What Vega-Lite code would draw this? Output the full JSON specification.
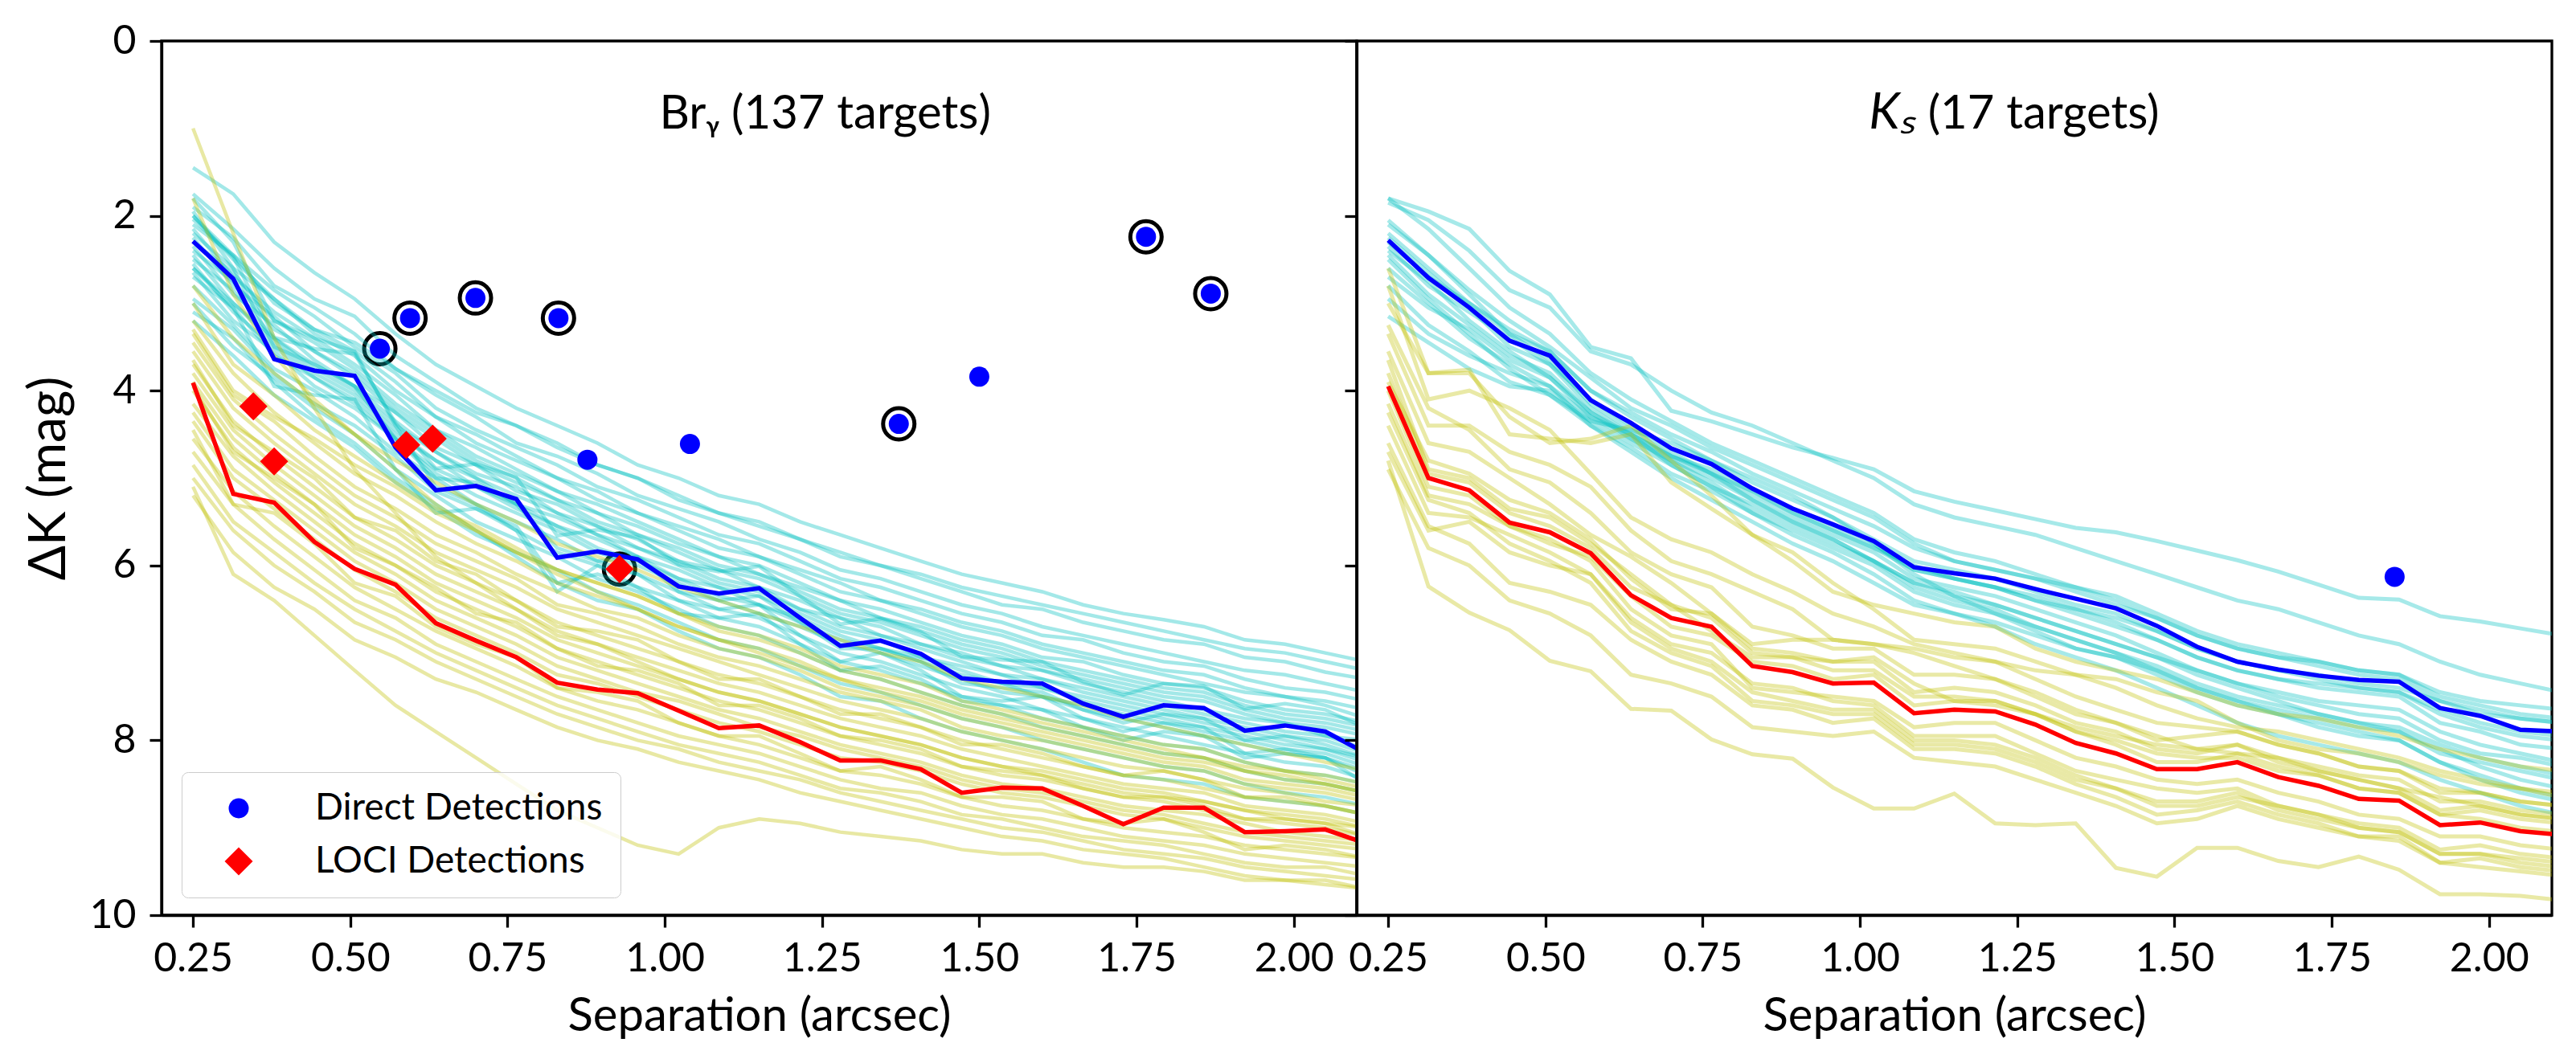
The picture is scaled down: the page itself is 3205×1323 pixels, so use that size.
{
  "$schema": "https://vega.github.io/schema/vega-lite/v6.json",
  "padding": {"left": 27, "top": 24, "right": 30, "bottom": 0},
  "spacing": 0,
  "bounds": "flush",
  "datasets": {
    "grid": [
      {"k": 1, "x": 0.25}, {"k": 2, "x": 0.314}, {"k": 3, "x": 0.379}, {"k": 4, "x": 0.443}, {"k": 5, "x": 0.507},
      {"k": 6, "x": 0.572}, {"k": 7, "x": 0.636}, {"k": 8, "x": 0.7}, {"k": 9, "x": 0.764}, {"k": 10, "x": 0.829},
      {"k": 11, "x": 0.893}, {"k": 12, "x": 0.957}, {"k": 13, "x": 1.022}, {"k": 14, "x": 1.086}, {"k": 15, "x": 1.15},
      {"k": 16, "x": 1.215}, {"k": 17, "x": 1.279}, {"k": 18, "x": 1.343}, {"k": 19, "x": 1.407}, {"k": 20, "x": 1.472},
      {"k": 21, "x": 1.536}, {"k": 22, "x": 1.6}, {"k": 23, "x": 1.665}, {"k": 24, "x": 1.729}, {"k": 25, "x": 1.793},
      {"k": 26, "x": 1.857}, {"k": 27, "x": 1.922}, {"k": 28, "x": 1.986}, {"k": 29, "x": 2.05}, {"k": 30, "x": 2.115}
    ],
    "curves": [
      {"p": "Br", "s": "c", "id": "c1", "y": [1.45,1.75,2.3,2.65,2.95,3.35,3.7,3.95,4.2,4.4,4.6,4.85,5.0,5.2,5.3,5.5,5.65,5.8,5.95,6.1,6.2,6.3,6.45,6.55,6.62,6.7,6.85,6.9,7.0,7.1]},
      {"p": "Br", "s": "c", "id": "c2", "y": [1.75,2.15,2.6,2.95,3.15,3.6,3.9,4.2,4.4,4.6,4.85,5.0,5.2,5.4,5.5,5.7,5.9,6.0,6.15,6.3,6.45,6.5,6.65,6.75,6.85,6.9,7.05,7.1,7.22,7.3]},
      {"p": "Br", "s": "c", "id": "c3", "y": [1.9,2.25,2.8,3.05,3.35,3.75,4.05,4.3,4.6,4.75,4.95,5.2,5.35,5.5,5.7,5.85,6.05,6.15,6.3,6.45,6.55,6.7,6.8,6.9,7.0,7.1,7.2,7.25,7.35,7.45]},
      {"p": "Br", "s": "c", "id": "c4", "y": [2.0,2.45,2.85,3.15,3.5,3.8,4.2,4.45,4.65,4.85,5.1,5.25,5.45,5.65,5.75,5.95,6.15,6.25,6.4,6.55,6.65,6.8,6.85,7.0,7.1,7.15,7.3,7.4,7.45,7.55]},
      {"p": "Br", "s": "c", "id": "c5", "y": [2.1,2.45,3.0,3.3,3.55,3.9,4.3,4.5,4.75,5.0,5.15,5.4,5.55,5.7,5.9,6.05,6.2,6.4,6.5,6.65,6.75,6.9,7.0,7.1,7.2,7.25,7.4,7.5,7.55,7.65]},
      {"p": "Br", "s": "c", "id": "c6", "y": [1.95,2.6,2.95,3.35,3.6,4.0,4.3,4.6,4.8,5.0,5.25,5.4,5.6,5.8,5.9,6.1,6.3,6.4,6.55,6.7,6.8,6.95,7.05,7.15,7.25,7.35,7.45,7.5,7.6,7.75]},
      {"p": "Br", "s": "c", "id": "c7", "y": [2.15,2.7,3.1,3.4,3.7,4.05,4.45,4.65,4.9,5.15,5.3,5.5,5.7,5.9,6.0,6.2,6.4,6.5,6.65,6.8,6.9,7.05,7.1,7.25,7.35,7.4,7.55,7.65,7.7,7.8]},
      {"p": "Br", "s": "c", "id": "c8", "y": [2.3,2.65,3.2,3.45,3.75,4.15,4.45,4.75,4.95,5.15,5.4,5.55,5.75,5.9,6.1,6.25,6.4,6.6,6.7,6.85,6.95,7.1,7.2,7.3,7.4,7.45,7.6,7.7,7.75,7.85]},
      {"p": "Br", "s": "c", "id": "c9", "y": [2.25,2.8,3.15,3.55,3.8,4.2,4.5,4.8,5.0,5.25,5.4,5.65,5.8,6.0,6.1,6.3,6.5,6.6,6.75,6.9,7.0,7.15,7.25,7.35,7.45,7.5,7.65,7.75,7.8,7.9]},
      {"p": "Br", "s": "c", "id": "c10", "y": [2.4,2.75,3.3,3.55,3.85,4.25,4.55,4.85,5.05,5.25,5.5,5.65,5.85,6.05,6.15,6.35,6.55,6.65,6.8,6.95,7.05,7.2,7.3,7.4,7.5,7.55,7.7,7.8,7.85,7.95]},
      {"p": "Br", "s": "c", "id": "c11", "y": [2.35,2.9,3.25,3.65,3.95,4.25,4.65,4.85,5.15,5.3,5.55,5.7,5.95,6.05,6.25,6.4,6.6,6.7,6.9,7.0,7.15,7.2,7.35,7.45,7.55,7.65,7.75,7.8,7.95,8.0]},
      {"p": "Br", "s": "c", "id": "c12", "y": [2.5,2.85,3.4,3.7,3.95,4.35,4.7,4.95,5.1,5.4,5.55,5.8,5.95,6.15,6.25,6.5,6.6,6.8,6.9,7.05,7.15,7.3,7.4,7.5,7.6,7.7,7.8,7.9,7.95,8.1]},
      {"p": "Br", "s": "c", "id": "c13", "y": [2.45,3.0,3.4,3.75,4.0,4.4,4.7,5.0,5.2,5.4,5.65,5.8,6.0,6.2,6.3,6.5,6.7,6.8,6.95,7.1,7.25,7.3,7.45,7.55,7.65,7.75,7.85,7.95,8.0,8.15]},
      {"p": "Br", "s": "c", "id": "c14", "y": [2.6,3.0,3.45,3.8,4.05,4.45,4.8,5.0,5.3,5.45,5.65,5.9,6.05,6.25,6.35,6.55,6.75,6.85,7.05,7.15,7.25,7.4,7.5,7.6,7.7,7.8,7.9,8.0,8.1,8.2]},
      {"p": "Br", "s": "c", "id": "c15", "y": [2.55,3.1,3.5,3.85,4.1,4.5,4.8,5.1,5.3,5.55,5.7,5.9,6.15,6.25,6.45,6.6,6.8,6.95,7.05,7.2,7.35,7.4,7.55,7.65,7.75,7.85,7.95,8.05,8.1,8.25]},
      {"p": "Br", "s": "c", "id": "c16", "y": [2.7,3.05,3.6,3.85,4.15,4.55,4.9,5.1,5.35,5.55,5.8,5.95,6.15,6.35,6.45,6.65,6.85,6.95,7.1,7.25,7.35,7.5,7.6,7.7,7.8,7.9,8.0,8.1,8.15,8.3]},
      {"p": "Br", "s": "c", "id": "c17", "y": [2.65,3.2,3.55,3.95,4.2,4.55,4.95,5.2,5.4,5.6,5.85,6.0,6.2,6.4,6.55,6.7,6.9,7.0,7.15,7.3,7.45,7.5,7.65,7.75,7.85,7.95,8.05,8.15,8.2,8.35]},
      {"p": "Br", "s": "c", "id": "c18", "y": [2.8,3.25,3.75,4.0,4.3,4.7,5.0,5.3,5.5,5.7,5.95,6.1,6.3,6.5,6.6,6.8,7.0,7.1,7.25,7.4,7.5,7.65,7.75,7.85,7.95,8.05,8.15,8.25,8.3,8.45]},
      {"p": "Br", "s": "c", "id": "c19", "y": [2.95,3.3,3.8,4.15,4.4,4.75,5.15,5.35,5.6,5.85,6.0,6.25,6.4,6.6,6.7,6.9,7.1,7.2,7.35,7.5,7.6,7.75,7.85,7.95,8.05,8.1,8.25,8.35,8.4,8.5]},
      {"p": "Br", "s": "c", "id": "c20", "y": [3.0,3.5,3.85,4.2,4.5,4.9,5.2,5.5,5.7,5.9,6.15,6.3,6.5,6.7,6.8,7.0,7.2,7.3,7.45,7.6,7.7,7.85,7.95,8.05,8.15,8.2,8.35,8.45,8.5,8.6]},
      {"p": "Br", "s": "c", "id": "c21", "y": [3.2,3.6,4.05,4.35,4.65,5.05,5.35,5.65,5.85,6.05,6.3,6.45,6.65,6.85,6.95,7.15,7.35,7.45,7.6,7.75,7.85,8.0,8.1,8.2,8.3,8.35,8.5,8.6,8.65,8.75]},
      {"p": "Br", "s": "c", "id": "c22", "y": [2.04,2.47,3.39,3.52,3.58,4.37,4.89,4.84,4.99,5.66,5.59,5.68,5.99,6.07,6.01,6.35,6.67,6.61,6.76,7.04,7.08,7.1,7.33,7.48,7.35,7.38,7.64,7.58,7.65,7.86]},
      {"p": "Br", "s": "c", "id": "c23", "y": [2.6,3.05,3.95,4.05,4.1,4.9,5.4,5.35,5.55,6.2,6.1,6.25,6.55,6.6,6.55,6.9,7.2,7.15,7.3,7.55,7.6,7.65,7.85,8.0,7.9,7.95,8.2,8.15,8.2,8.4]},
      {"p": "Br", "s": "c", "id": "c24", "y": [2.2,2.6,3.5,3.7,3.95,4.55,5.0,5.05,5.3,5.8,5.95,5.9,6.3,6.4,6.35,6.65,6.95,6.95,7.1,7.35,7.4,7.45,7.65,7.8,7.7,7.75,8.0,7.95,8.05,8.2]},
      {"p": "Br", "s": "c", "id": "c25", "y": [1.8,2.3,3.2,3.4,3.55,4.4,5.1,5.3,5.6,6.3,6.0,6.1,6.4,6.5,6.45,6.8,7.1,7.0,7.2,7.5,7.55,7.5,7.75,7.9,7.8,7.85,8.15,8.1,8.2,8.5]},
      {"p": "Br", "s": "c", "id": "c26", "y": [2.0,2.5,2.95,3.3,3.45,3.75,4.0,4.25,4.4,4.65,4.85,5.0,5.25,5.4,5.55,5.7,5.85,6.0,6.1,6.25,6.35,6.45,6.55,6.65,6.75,6.85,6.95,7.0,7.1,7.2]},
      {"p": "Br", "s": "c", "id": "c27", "y": [3.1,3.4,3.9,4.3,4.6,5.0,5.3,5.6,5.9,6.2,6.4,6.5,6.75,6.95,7.05,7.25,7.5,7.55,7.75,7.9,8.0,8.1,8.25,8.4,8.45,8.5,8.65,8.7,8.75,8.85]},
      {"p": "Br", "s": "y", "id": "y1", "y": [1.0,2.2,3.4,4.2,4.9,5.4,5.9,6.2,6.5,6.8,6.9,7.1,7.3,7.45,7.55,7.7,7.85,7.95,8.05,8.2,8.3,8.35,8.45,8.55,8.6,8.7,8.8,8.85,8.9,9.0]},
      {"p": "Br", "s": "y", "id": "y2", "y": [1.8,2.9,3.6,4.1,4.5,4.9,5.3,5.6,5.85,6.1,6.3,6.5,6.7,6.85,7.0,7.15,7.3,7.45,7.55,7.7,7.8,7.9,8.0,8.1,8.2,8.25,8.35,8.45,8.5,8.6]},
      {"p": "Br", "s": "y", "id": "y3", "y": [2.8,3.4,3.8,4.15,4.5,4.8,5.05,5.3,5.5,5.75,5.9,6.05,6.25,6.4,6.55,6.7,6.85,7.0,7.1,7.3,7.4,7.5,7.6,7.75,7.85,7.95,8.05,8.15,8.25,8.35]},
      {"p": "Br", "s": "y", "id": "y4", "y": [3.0,3.7,4.05,4.45,4.75,5.05,5.35,5.55,5.8,6.05,6.2,6.35,6.55,6.7,6.8,6.95,7.15,7.25,7.35,7.55,7.65,7.75,7.85,7.95,8.05,8.1,8.25,8.35,8.4,8.5]},
      {"p": "Br", "s": "y", "id": "y5", "y": [3.2,3.8,4.25,4.6,4.95,5.2,5.5,5.75,5.95,6.2,6.35,6.5,6.7,6.85,6.95,7.1,7.3,7.4,7.5,7.65,7.75,7.85,7.95,8.05,8.15,8.2,8.35,8.4,8.5,8.6]},
      {"p": "Br", "s": "y", "id": "y6", "y": [3.35,4.05,4.35,4.75,5.1,5.35,5.65,5.85,6.1,6.3,6.5,6.6,6.8,6.95,7.05,7.2,7.4,7.5,7.6,7.75,7.85,7.95,8.05,8.15,8.25,8.3,8.45,8.5,8.55,8.65]},
      {"p": "Br", "s": "y", "id": "y7", "y": [3.45,4.1,4.5,4.85,5.2,5.45,5.75,5.95,6.15,6.45,6.55,6.7,6.9,7.05,7.15,7.3,7.45,7.55,7.65,7.85,7.95,8.0,8.1,8.2,8.3,8.35,8.5,8.55,8.6,8.7]},
      {"p": "Br", "s": "y", "id": "y8", "y": [3.55,4.2,4.6,4.95,5.3,5.55,5.85,6.05,6.25,6.5,6.65,6.8,6.95,7.1,7.25,7.4,7.55,7.65,7.75,7.9,8.0,8.1,8.2,8.3,8.35,8.45,8.55,8.6,8.7,8.75]},
      {"p": "Br", "s": "y", "id": "y9", "y": [3.65,4.4,4.7,5.0,5.45,5.6,5.95,6.1,6.4,6.7,6.75,6.85,7.1,7.3,7.3,7.5,7.7,7.7,7.85,8.05,8.05,8.15,8.3,8.4,8.35,8.45,8.65,8.65,8.75,8.85]},
      {"p": "Br", "s": "y", "id": "y10", "y": [3.7,4.35,4.75,5.1,5.45,5.7,6.0,6.2,6.4,6.65,6.8,6.95,7.1,7.25,7.35,7.5,7.65,7.75,7.85,8.0,8.1,8.2,8.3,8.4,8.45,8.55,8.65,8.7,8.75,8.85]},
      {"p": "Br", "s": "y", "id": "y11", "y": [3.8,4.45,4.85,5.2,5.55,5.8,6.1,6.3,6.5,6.75,6.9,7.05,7.2,7.35,7.45,7.6,7.75,7.85,7.95,8.1,8.2,8.3,8.4,8.5,8.55,8.6,8.75,8.8,8.85,8.95]},
      {"p": "Br", "s": "y", "id": "y12", "y": [3.9,4.55,4.95,5.3,5.65,5.9,6.2,6.4,6.6,6.85,7.0,7.15,7.3,7.45,7.55,7.7,7.85,7.95,8.05,8.2,8.3,8.4,8.5,8.6,8.65,8.7,8.8,8.9,8.95,9.0]},
      {"p": "Br", "s": "y", "id": "y13", "y": [3.95,4.7,5.0,5.3,5.8,6.0,6.25,6.55,6.65,6.95,7.15,7.2,7.35,7.6,7.6,7.75,7.95,8.0,8.1,8.3,8.35,8.4,8.55,8.65,8.65,8.75,8.9,8.9,8.95,9.1]},
      {"p": "Br", "s": "y", "id": "y14", "y": [4.0,4.65,5.05,5.4,5.75,6.0,6.3,6.5,6.7,6.95,7.1,7.25,7.4,7.55,7.65,7.8,7.95,8.05,8.15,8.3,8.4,8.45,8.55,8.65,8.7,8.8,8.9,8.95,9.0,9.1]},
      {"p": "Br", "s": "y", "id": "y15", "y": [4.15,4.75,5.15,5.5,5.85,6.1,6.4,6.6,6.8,7.05,7.2,7.35,7.5,7.65,7.75,7.9,8.05,8.15,8.25,8.4,8.5,8.55,8.65,8.75,8.8,8.85,8.95,9.05,9.1,9.15]},
      {"p": "Br", "s": "y", "id": "y16", "y": [4.25,4.9,5.25,5.6,5.95,6.2,6.5,6.7,6.9,7.15,7.3,7.45,7.55,7.7,7.85,7.95,8.1,8.2,8.3,8.45,8.55,8.6,8.7,8.8,8.85,8.95,9.05,9.1,9.15,9.2]},
      {"p": "Br", "s": "y", "id": "y17", "y": [4.35,5.0,5.35,5.7,6.05,6.3,6.6,6.8,7.0,7.25,7.35,7.5,7.65,7.8,7.9,8.05,8.2,8.25,8.35,8.5,8.6,8.65,8.75,8.85,8.9,9.0,9.1,9.15,9.2,9.25]},
      {"p": "Br", "s": "y", "id": "y18", "y": [4.45,5.3,5.4,5.75,6.2,6.35,6.7,6.9,7.05,7.4,7.45,7.55,7.8,7.95,7.95,8.15,8.35,8.3,8.45,8.65,8.65,8.7,8.9,8.95,8.9,9.05,9.25,9.2,9.25,9.35]},
      {"p": "Br", "s": "y", "id": "y19", "y": [4.55,5.15,5.55,5.9,6.25,6.5,6.75,6.95,7.15,7.4,7.55,7.65,7.8,7.95,8.05,8.2,8.35,8.4,8.5,8.65,8.75,8.8,8.9,9.0,9.05,9.1,9.2,9.25,9.3,9.35]},
      {"p": "Br", "s": "y", "id": "y20", "y": [4.7,5.3,5.7,6.05,6.4,6.6,6.9,7.1,7.3,7.5,7.65,7.8,7.95,8.05,8.15,8.3,8.45,8.55,8.6,8.75,8.85,8.9,9.0,9.1,9.15,9.2,9.3,9.35,9.4,9.45]},
      {"p": "Br", "s": "y", "id": "y21", "y": [4.85,5.5,5.85,6.2,6.5,6.75,7.0,7.2,7.4,7.6,7.75,7.9,8.05,8.15,8.25,8.4,8.55,8.6,8.7,8.85,8.9,9.0,9.1,9.15,9.2,9.3,9.4,9.45,9.45,9.55]},
      {"p": "Br", "s": "y", "id": "y22", "y": [5.0,5.6,6.0,6.3,6.65,6.85,7.1,7.3,7.5,7.7,7.85,8.0,8.1,8.25,8.35,8.45,8.6,8.7,8.8,8.9,9.0,9.05,9.15,9.25,9.3,9.35,9.45,9.5,9.55,9.6]},
      {"p": "Br", "s": "y", "id": "y23", "y": [5.2,5.85,6.25,6.5,6.85,7.05,7.3,7.45,7.65,7.85,8.0,8.1,8.25,8.35,8.45,8.6,8.7,8.8,8.9,9.0,9.1,9.15,9.25,9.3,9.35,9.45,9.55,9.6,9.6,9.7]},
      {"p": "Br", "s": "y", "id": "y24", "y": [5.1,6.1,6.4,6.8,7.2,7.6,7.9,8.2,8.5,8.8,9.0,9.2,9.3,9.0,8.9,8.95,9.05,9.1,9.15,9.25,9.3,9.3,9.4,9.45,9.45,9.5,9.6,9.6,9.65,9.7]},
      {"p": "Br", "s": "y", "id": "y25", "y": [3.3,4.0,4.3,4.55,4.85,5.1,5.4,5.6,5.85,6.05,6.2,6.35,6.55,6.75,6.85,7.0,7.2,7.3,7.45,7.6,7.7,7.8,7.9,8.0,8.1,8.2,8.3,8.35,8.45,8.55]},
      {"p": "Br", "s": "bm", "id": "bm", "y": [2.29,2.72,3.64,3.77,3.83,4.65,5.14,5.09,5.24,5.91,5.84,5.93,6.24,6.32,6.26,6.6,6.92,6.86,7.01,7.29,7.33,7.35,7.58,7.73,7.6,7.63,7.89,7.83,7.9,8.15]},
      {"p": "Br", "s": "rm", "id": "rm", "y": [3.91,5.18,5.28,5.73,6.04,6.22,6.66,6.86,7.05,7.34,7.42,7.46,7.66,7.86,7.83,8.02,8.23,8.23,8.33,8.6,8.54,8.55,8.75,8.96,8.77,8.77,9.05,9.04,9.02,9.18]},
      {"p": "Ks", "s": "c", "id": "kc1", "y": [1.8,1.95,2.15,2.63,2.9,3.5,3.63,4.23,4.35,4.5,4.65,4.77,4.9,5.15,5.27,5.37,5.47,5.57,5.62,5.72,5.83,5.94,6.07,6.22,6.37,6.39,6.58,6.64,6.72,6.8]},
      {"p": "Ks", "s": "c", "id": "kc2", "y": [1.85,2.05,2.4,2.85,3.05,3.55,3.7,4.0,4.25,4.4,4.6,4.8,5.0,5.3,5.45,5.55,5.65,5.8,5.95,6.1,6.25,6.4,6.5,6.65,6.8,6.9,7.1,7.25,7.35,7.45]},
      {"p": "Ks", "s": "c", "id": "kc3", "y": [2.1,2.45,2.85,3.2,3.5,3.85,4.2,4.4,4.65,4.85,5.05,5.25,5.45,5.75,5.95,6.05,6.15,6.3,6.45,6.6,6.8,6.95,7.05,7.1,7.2,7.25,7.45,7.55,7.6,7.65]},
      {"p": "Ks", "s": "c", "id": "kc4", "y": [2.2,2.6,3.0,3.3,3.55,4.0,4.3,4.55,4.8,5.05,5.25,5.45,5.7,5.95,6.05,6.15,6.3,6.45,6.55,6.75,6.95,7.1,7.2,7.25,7.35,7.4,7.55,7.7,7.75,7.8]},
      {"p": "Ks", "s": "c", "id": "kc5", "y": [2.35,2.8,3.1,3.4,3.7,4.1,4.4,4.7,4.95,5.2,5.4,5.6,5.8,6.0,6.15,6.25,6.4,6.55,6.7,6.85,7.05,7.2,7.3,7.35,7.4,7.45,7.7,7.85,7.95,8.0]},
      {"p": "Ks", "s": "c", "id": "kc6", "y": [2.4,2.75,3.2,3.55,3.85,4.25,4.55,4.8,5.05,5.35,5.55,5.75,5.95,6.2,6.35,6.45,6.6,6.75,6.9,7.05,7.2,7.35,7.5,7.6,7.7,7.75,8.0,8.15,8.2,8.3]},
      {"p": "Ks", "s": "c", "id": "kc7", "y": [2.5,2.95,3.35,3.75,4.05,4.4,4.7,5.0,5.25,5.5,5.75,5.95,6.2,6.45,6.55,6.65,6.8,6.95,7.05,7.2,7.4,7.55,7.65,7.75,7.85,7.9,8.15,8.25,8.35,8.45]},
      {"p": "Ks", "s": "c", "id": "kc8", "y": [2.8,3.25,3.55,3.9,4.05,4.35,4.6,4.85,5.1,5.3,5.5,5.7,5.95,6.2,6.3,6.45,6.6,6.75,6.9,7.05,7.25,7.4,7.55,7.7,7.8,7.9,8.1,8.3,8.45,8.55]},
      {"p": "Ks", "s": "c", "id": "kc9", "y": [2.95,3.35,3.6,3.8,3.95,4.3,4.5,4.75,4.95,5.15,5.35,5.55,5.75,6.05,6.15,6.25,6.35,6.5,6.6,6.75,6.95,7.1,7.2,7.3,7.4,7.45,7.65,7.8,7.9,7.95]},
      {"p": "Ks", "s": "c", "id": "kc10", "y": [3.15,3.45,3.75,3.95,4.0,4.35,4.45,4.6,4.8,5.0,5.2,5.45,5.75,6.1,6.35,6.55,6.75,6.95,7.05,7.25,7.45,7.6,7.7,7.85,7.95,8.0,8.25,8.45,8.6,8.7]},
      {"p": "Ks", "s": "c", "id": "kc11", "y": [2.3,2.7,3.0,3.35,3.55,4.0,4.25,4.5,4.7,4.95,5.15,5.35,5.55,5.8,5.95,6.05,6.15,6.25,6.35,6.55,6.75,6.9,7.0,7.1,7.2,7.25,7.5,7.6,7.7,7.75]},
      {"p": "Ks", "s": "c", "id": "kc12", "y": [2.05,2.45,2.9,3.35,3.65,4.15,4.45,4.75,4.95,5.25,5.5,5.7,5.95,6.25,6.4,6.5,6.7,6.85,7.0,7.2,7.4,7.55,7.7,7.8,7.9,8.0,8.25,8.4,8.55,8.65]},
      {"p": "Ks", "s": "c", "id": "kc13", "y": [2.6,3.0,3.4,3.7,3.95,4.4,4.65,4.95,5.15,5.4,5.6,5.8,6.0,6.3,6.45,6.55,6.7,6.85,7.0,7.15,7.35,7.5,7.6,7.7,7.8,7.85,8.05,8.2,8.3,8.4]},
      {"p": "Ks", "s": "c", "id": "kc14", "y": [2.25,2.65,3.05,3.5,3.7,4.2,4.5,4.75,4.9,5.15,5.4,5.6,5.8,6.05,6.15,6.25,6.4,6.5,6.65,6.85,7.05,7.2,7.3,7.4,7.45,7.5,7.8,7.9,8.05,8.1]},
      {"p": "Ks", "s": "c", "id": "kc15", "y": [1.8,2.15,2.6,3.05,3.35,3.8,4.1,4.35,4.6,4.8,5.0,5.2,5.4,5.7,5.85,5.95,6.1,6.25,6.4,6.6,6.8,6.95,7.05,7.15,7.25,7.3,7.55,7.65,7.75,7.8]},
      {"p": "Ks", "s": "c", "id": "kc16", "y": [2.7,3.05,3.3,3.65,3.85,4.3,4.55,4.8,5.0,5.25,5.45,5.65,5.85,6.15,6.25,6.35,6.5,6.65,6.8,7.0,7.2,7.35,7.45,7.55,7.6,7.65,7.9,8.05,8.15,8.25]},
      {"p": "Ks", "s": "c", "id": "kc17", "y": [2.45,2.9,3.25,3.6,3.8,4.25,4.5,4.85,5.1,5.4,5.65,5.85,6.1,6.4,6.55,6.7,6.9,7.05,7.2,7.4,7.6,7.8,7.95,8.05,8.15,8.25,8.45,8.6,8.75,8.85]},
      {"p": "Ks", "s": "y", "id": "ky1", "y": [4.8,6.24,6.54,6.74,7.09,7.21,7.64,7.66,7.99,8.16,8.21,8.54,8.78,8.78,8.61,8.95,8.97,8.95,9.46,9.56,9.23,9.23,9.38,9.45,9.33,9.48,9.76,9.76,9.78,9.83]},
      {"p": "Ks", "s": "y", "id": "ky2", "y": [2.6,3.8,3.76,4.5,4.55,4.6,4.5,5.05,5.35,5.65,5.95,6.3,6.45,6.55,6.65,6.7,6.95,7.1,7.2,7.3,7.45,7.6,7.7,7.75,7.85,7.95,8.1,8.2,8.3,8.35]},
      {"p": "Ks", "s": "y", "id": "ky3", "y": [3.0,3.8,3.8,4.3,4.6,4.55,4.4,4.8,5.2,5.65,5.85,6.2,6.5,6.85,6.9,6.95,7.1,7.25,7.4,7.6,7.75,7.85,7.9,8.0,8.1,8.2,8.35,8.45,8.55,8.6]},
      {"p": "Ks", "s": "y", "id": "ky4", "y": [3.35,4.4,4.4,4.7,4.85,5.1,5.6,5.95,6.1,6.3,6.5,6.85,6.9,7.0,7.15,7.3,7.5,7.7,7.8,7.95,8.1,8.15,8.2,8.35,8.45,8.55,8.65,8.75,8.85,8.9]},
      {"p": "Ks", "s": "y", "id": "ky5", "y": [3.55,4.6,4.7,5.0,5.3,5.65,5.9,6.2,6.55,6.9,6.85,6.85,6.9,6.95,7.05,7.1,7.2,7.25,7.3,7.45,7.55,7.8,8.0,8.1,8.15,8.25,8.4,8.5,8.55,8.65]},
      {"p": "Ks", "s": "y", "id": "ky6", "y": [3.65,4.9,5.0,5.35,5.45,5.75,6.1,6.45,6.75,7.05,7.05,7.1,7.05,7.35,7.55,7.6,7.7,7.9,8.05,8.25,8.25,8.15,8.3,8.4,8.55,8.6,8.85,8.9,9.0,9.05]},
      {"p": "Ks", "s": "y", "id": "ky7", "y": [4.15,5.2,5.3,5.55,5.7,5.95,6.5,6.8,6.9,7.4,7.45,7.5,7.55,7.85,7.8,7.8,8.0,8.2,8.3,8.45,8.5,8.45,8.6,8.7,8.85,8.9,9.1,9.1,9.2,9.25]},
      {"p": "Ks", "s": "y", "id": "ky8", "y": [4.7,5.6,5.5,5.85,6.0,6.1,6.65,6.95,7.1,7.45,7.55,7.65,7.65,8.0,8.0,8.05,8.2,8.4,8.55,8.75,8.75,8.65,8.75,8.85,9.0,9.05,9.3,9.3,9.4,9.45]},
      {"p": "Ks", "s": "y", "id": "ky9", "y": [4.9,5.8,6.0,6.4,6.55,6.8,7.25,7.35,7.5,7.85,7.9,7.95,7.9,8.2,8.25,8.3,8.45,8.6,8.75,8.95,8.9,8.75,8.9,9.0,9.1,9.15,9.4,9.45,9.5,9.55]},
      {"p": "Ks", "s": "y", "id": "ky10", "y": [4.0,5.1,5.2,5.55,5.75,5.9,6.35,6.7,6.8,7.1,7.15,7.3,7.25,7.6,7.55,7.55,7.7,7.9,8.0,8.15,8.2,8.2,8.35,8.4,8.55,8.6,8.85,8.8,8.9,8.95]},
      {"p": "Ks", "s": "y", "id": "ky11", "y": [3.8,4.95,5.05,5.4,5.55,5.8,6.25,6.45,6.6,7.0,7.05,7.2,7.2,7.5,7.5,7.55,7.7,7.85,7.95,8.05,8.1,8.05,8.2,8.3,8.4,8.45,8.7,8.7,8.8,8.85]},
      {"p": "Ks", "s": "y", "id": "ky12", "y": [4.4,5.4,5.45,5.65,5.85,6.1,6.6,6.9,7.0,7.35,7.4,7.55,7.6,7.95,7.95,7.95,8.15,8.35,8.45,8.55,8.6,8.55,8.75,8.85,8.95,9.0,9.25,9.2,9.3,9.35]},
      {"p": "Ks", "s": "y", "id": "ky13", "y": [3.25,4.2,4.45,4.9,5.05,5.4,5.85,6.1,6.25,6.7,6.8,6.95,6.95,7.25,7.25,7.3,7.45,7.65,7.8,8.0,7.95,7.9,8.05,8.15,8.3,8.35,8.6,8.6,8.7,8.75]},
      {"p": "Ks", "s": "y", "id": "ky14", "y": [4.6,5.55,5.75,6.2,6.3,6.45,6.85,7.1,7.25,7.6,7.65,7.8,7.75,8.1,8.1,8.15,8.3,8.5,8.65,8.85,8.8,8.7,8.85,8.95,9.1,9.1,9.4,9.35,9.45,9.5]},
      {"p": "Ks", "s": "y", "id": "ky15", "y": [2.8,4.1,4.0,4.2,4.45,4.95,5.45,5.7,5.85,6.1,6.3,6.55,6.7,6.9,7.0,7.1,7.3,7.5,7.65,7.8,7.85,7.9,8.05,8.15,8.3,8.35,8.55,8.6,8.7,8.75]},
      {"p": "Ks", "s": "y", "id": "ky16", "y": [4.25,5.25,5.4,5.75,5.95,6.2,6.75,7.0,7.15,7.55,7.6,7.7,7.7,8.05,8.05,8.1,8.25,8.45,8.55,8.7,8.7,8.6,8.8,8.9,9.0,9.05,9.3,9.3,9.35,9.4]},
      {"p": "Ks", "s": "y", "id": "ky17", "y": [3.9,4.8,4.95,5.25,5.4,5.7,6.15,6.5,6.55,6.95,7.0,7.1,7.1,7.45,7.4,7.45,7.6,7.8,7.9,8.1,8.15,8.05,8.25,8.35,8.45,8.55,8.8,8.75,8.85,8.9]},
      {"p": "Ks", "s": "bm", "id": "kbm", "y": [2.28,2.71,3.05,3.43,3.6,4.11,4.37,4.66,4.84,5.12,5.35,5.53,5.72,6.02,6.09,6.15,6.27,6.38,6.49,6.69,6.93,7.1,7.19,7.26,7.31,7.33,7.63,7.72,7.88,7.9]},
      {"p": "Ks", "s": "rm", "id": "krm", "y": [3.95,5.0,5.14,5.51,5.62,5.86,6.34,6.6,6.7,7.15,7.22,7.35,7.34,7.69,7.65,7.67,7.82,8.03,8.15,8.33,8.33,8.25,8.42,8.52,8.67,8.69,8.97,8.94,9.04,9.08]}
    ],
    "dets": [
      {"p": "Br", "kind": "Direct Detections", "x": 0.547, "y": 3.52, "ring": true},
      {"p": "Br", "kind": "Direct Detections", "x": 0.595, "y": 3.17, "ring": true},
      {"p": "Br", "kind": "Direct Detections", "x": 0.699, "y": 2.94, "ring": true},
      {"p": "Br", "kind": "Direct Detections", "x": 0.831, "y": 3.17, "ring": true},
      {"p": "Br", "kind": "Direct Detections", "x": 0.877, "y": 4.79, "ring": false},
      {"p": "Br", "kind": "Direct Detections", "x": 1.04, "y": 4.61, "ring": false},
      {"p": "Br", "kind": "Direct Detections", "x": 1.372, "y": 4.38, "ring": true},
      {"p": "Br", "kind": "Direct Detections", "x": 1.5, "y": 3.84, "ring": false},
      {"p": "Br", "kind": "Direct Detections", "x": 1.765, "y": 2.24, "ring": true},
      {"p": "Br", "kind": "Direct Detections", "x": 1.868, "y": 2.89, "ring": true},
      {"p": "Br", "kind": "LOCI Detections", "x": 0.346, "y": 4.18, "ring": false},
      {"p": "Br", "kind": "LOCI Detections", "x": 0.379, "y": 4.81, "ring": false},
      {"p": "Br", "kind": "LOCI Detections", "x": 0.589, "y": 4.62, "ring": false},
      {"p": "Br", "kind": "LOCI Detections", "x": 0.631, "y": 4.55, "ring": false},
      {"p": "Br", "kind": "LOCI Detections", "x": 0.928, "y": 6.04, "ring": true},
      {"p": "Ks", "kind": "Direct Detections", "x": 1.85, "y": 6.13, "ring": false}
    ]
  },
  "hconcat": [
    {
      "width": 1487,
      "height": 1088,
      "layer": [
        {
          "data": {"name": "dets"},
          "transform": [{"filter": "datum.p == 'Br' && datum.ring"}],
          "mark": {"type": "point", "shape": "circle", "filled": false, "stroke": "#000000", "strokeWidth": 5, "size": 1521, "opacity": 1},
          "encoding": {
            "x": {"field": "x", "type": "quantitative", "title": "Separation (arcsec)"},
            "y": {"field": "y", "type": "quantitative", "title": "ΔK (mag)"}
          }
        },
        {
          "data": {"name": "curves"},
          "transform": [
            {"filter": "datum.p == 'Br'"},
            {"flatten": ["y"]},
            {"window": [{"op": "row_number", "as": "k"}], "groupby": ["id"]},
            {"lookup": "k", "from": {"data": {"name": "grid"}, "key": "k", "fields": ["x"]}}
          ],
          "encoding": {
            "x": {
              "field": "x", "type": "quantitative", "title": "Separation (arcsec)",
              "scale": {"domain": [0.2, 2.1], "nice": false, "zero": false},
              "axis": {"values": [0.25, 0.5, 0.75, 1, 1.25, 1.5, 1.75, 2], "format": ".2f"}
            },
            "y": {
              "field": "y", "type": "quantitative", "title": "ΔK (mag)",
              "scale": {"domain": [0, 10], "reverse": true, "nice": false, "zero": false},
              "axis": {"values": [0, 2, 4, 6, 8, 10], "format": "d", "titleX": -140, "titleY": 544, "titleAngle": -90, "titleAlign": "center", "titleBaseline": "middle", "titleFontSize": 64}
            }
          },
          "layer": [
            {
              "transform": [{"filter": "datum.s == 'c'"}],
              "mark": {"type": "line", "color": "#00BFBF", "opacity": 0.36, "strokeWidth": 4.5, "clip": true},
              "encoding": {"detail": {"field": "id"}}
            },
            {
              "transform": [{"filter": "datum.s == 'y'"}],
              "mark": {"type": "line", "color": "#BFBF00", "opacity": 0.36, "strokeWidth": 4.5, "clip": true},
              "encoding": {"detail": {"field": "id"}}
            },
            {
              "transform": [{"filter": "datum.s == 'bm'"}],
              "mark": {"type": "line", "color": "#0000FF", "strokeWidth": 5.5, "clip": true}
            },
            {
              "transform": [{"filter": "datum.s == 'rm'"}],
              "mark": {"type": "line", "color": "#FF0000", "strokeWidth": 5.5, "clip": true}
            }
          ]
        },
        {
          "data": {"name": "dets"},
          "transform": [{"filter": "datum.p == 'Br'"}],
          "mark": {"type": "point", "filled": true, "opacity": 1, "strokeWidth": 0},
          "encoding": {
            "x": {"field": "x", "type": "quantitative", "title": "Separation (arcsec)"},
            "y": {"field": "y", "type": "quantitative", "title": "ΔK (mag)"},
            "shape": {
              "field": "kind", "type": "nominal",
              "scale": {"domain": ["Direct Detections", "LOCI Detections"], "range": ["circle", "diamond"]},
              "legend": {
                "title": null, "orient": "none", "legendX": 25, "legendY": 910,
                "labelFontSize": 46, "labelFont": "Lato", "labelColor": "#000000", "labelLimit": 0,
                "padding": 22, "rowPadding": 20, "symbolOffset": 26, "labelOffset": 72,
                "fillColor": "rgba(255,255,255,0.8)", "strokeColor": "#CCCCCC", "cornerRadius": 8
              }
            },
            "color": {
              "field": "kind", "type": "nominal",
              "scale": {"domain": ["Direct Detections", "LOCI Detections"], "range": ["#0000FF", "#FF0000"]}
            },
            "size": {
              "field": "kind", "type": "nominal",
              "scale": {"domain": ["Direct Detections", "LOCI Detections"], "range": [625, 1225]}
            }
          }
        },
        {
          "data": {"values": [{"t": "Brᵧ (137 targets)"}]},
          "mark": {"type": "text", "fontSize": 58, "align": "center", "baseline": "alphabetic", "color": "#000000"},
          "encoding": {
            "text": {"field": "t", "type": "nominal"},
            "x": {"datum": 1.255, "type": "quantitative"},
            "y": {"datum": 1, "type": "quantitative"}
          }
        }
      ]
    },
    {
      "width": 1487,
      "height": 1088,
      "layer": [
        {
          "data": {"name": "curves"},
          "transform": [
            {"filter": "datum.p == 'Ks'"},
            {"flatten": ["y"]},
            {"window": [{"op": "row_number", "as": "k"}], "groupby": ["id"]},
            {"lookup": "k", "from": {"data": {"name": "grid"}, "key": "k", "fields": ["x"]}}
          ],
          "encoding": {
            "x": {
              "field": "x", "type": "quantitative", "title": "Separation (arcsec)",
              "scale": {"domain": [0.2, 2.1], "nice": false, "zero": false},
              "axis": {"values": [0.25, 0.5, 0.75, 1, 1.25, 1.5, 1.75, 2], "format": ".2f"}
            },
            "y": {
              "field": "y", "type": "quantitative", "title": null,
              "scale": {"domain": [0, 10], "reverse": true, "nice": false, "zero": false},
              "axis": {"values": [0, 2, 4, 6, 8, 10], "labels": false}
            }
          },
          "layer": [
            {
              "transform": [{"filter": "datum.s == 'c'"}],
              "mark": {"type": "line", "color": "#00BFBF", "opacity": 0.35, "strokeWidth": 5, "clip": true},
              "encoding": {"detail": {"field": "id"}}
            },
            {
              "transform": [{"filter": "datum.s == 'y'"}],
              "mark": {"type": "line", "color": "#BFBF00", "opacity": 0.35, "strokeWidth": 5, "clip": true},
              "encoding": {"detail": {"field": "id"}}
            },
            {
              "transform": [{"filter": "datum.s == 'bm'"}],
              "mark": {"type": "line", "color": "#0000FF", "strokeWidth": 5.5, "clip": true}
            },
            {
              "transform": [{"filter": "datum.s == 'rm'"}],
              "mark": {"type": "line", "color": "#FF0000", "strokeWidth": 5.5, "clip": true}
            }
          ]
        },
        {
          "data": {"name": "dets"},
          "transform": [{"filter": "datum.p == 'Ks'"}],
          "mark": {"type": "point", "shape": "circle", "filled": true, "color": "#0000FF", "opacity": 1, "strokeWidth": 0, "size": 625},
          "encoding": {
            "x": {"field": "x", "type": "quantitative", "title": "Separation (arcsec)"},
            "y": {"field": "y", "type": "quantitative", "title": null}
          }
        },
        {
          "data": {"values": [{"t": "Kₛ"}]},
          "mark": {"type": "text", "fontSize": 62, "fontStyle": "italic", "align": "right", "baseline": "alphabetic", "dx": -16, "color": "#000000"},
          "encoding": {
            "text": {"field": "t", "type": "nominal"},
            "x": {"datum": 1.108, "type": "quantitative"},
            "y": {"datum": 1, "type": "quantitative"}
          }
        },
        {
          "data": {"values": [{"t": "(17 targets)"}]},
          "mark": {"type": "text", "fontSize": 58, "align": "left", "baseline": "alphabetic", "color": "#000000"},
          "encoding": {
            "text": {"field": "t", "type": "nominal"},
            "x": {"datum": 1.108, "type": "quantitative"},
            "y": {"datum": 1, "type": "quantitative"}
          }
        }
      ]
    }
  ],
  "config": {
    "font": "Lato",
    "background": "#FFFFFF",
    "view": {"stroke": "#000000", "strokeWidth": 3.3},
    "axis": {
      "grid": false,
      "domainColor": "#000000", "domainWidth": 3.3,
      "tickColor": "#000000", "tickWidth": 3.3, "tickSize": 15,
      "labelFont": "Lato", "labelFontSize": 50, "labelColor": "#000000",
      "titleFont": "Lato", "titleFontSize": 58, "titleFontWeight": "normal", "titleColor": "#000000",
      "labelOverlap": false
    },
    "axisX": {"labelPadding": 14, "titleY": 143, "titleBaseline": "alphabetic", "labelFlush": false},
    "axisY": {"labelPadding": 17}
  }
}
